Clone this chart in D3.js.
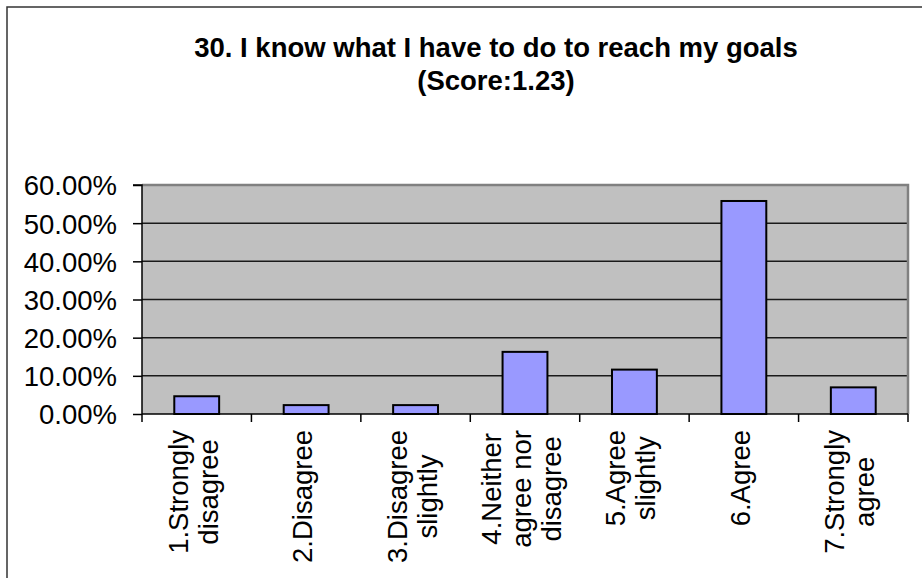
<!DOCTYPE html>
<html>
<head>
<meta charset="utf-8">
<script src="https://cdn.jsdelivr.net/npm/d3@7"></script>
<style>
  html, body { margin: 0; padding: 0; background: #fff; }
  svg { display: block; }
  text { font-family: "Liberation Sans", Arial, sans-serif; fill: #000; }
</style>
</head>
<body>
<svg id="chart" width="922" height="578"></svg>
<script>
// Survey item 30: share of respondents per answer (n = 43)
const titleLines = ["30. I know what I have to do to reach my goals", "(Score:1.23)"];
const categories = [
  ["1.Strongly", "disagree"],
  ["2.Disagree"],
  ["3.Disagree", "slightly"],
  ["4.Neither", "agree nor", "disagree"],
  ["5.Agree", "slightly"],
  ["6.Agree"],
  ["7.Strongly", "agree"]
];
const values = [0.0465, 0.0233, 0.0233, 0.1628, 0.1163, 0.5581, 0.0698];
const yTicks = [0, 0.1, 0.2, 0.3, 0.4, 0.5, 0.6];

const svg = d3.select("#chart");
const plot = { left: 142, right: 908, top: 185, bottom: 414 };
const labelSize = "27.5px";

// Outer chart frame (runs off the right and bottom edges)
svg.append("rect")
  .attr("x", 7).attr("y", 7)
  .attr("width", 940).attr("height", 600)
  .attr("fill", "#fff")
  .attr("stroke", "#333").attr("stroke-width", 1.5);

// Title
const title = svg.append("text")
  .attr("text-anchor", "middle")
  .style("font-weight", "bold")
  .style("font-size", "27.5px");
titleLines.forEach((t, i) => {
  title.append("tspan").attr("x", 496).attr("y", 57 + i * 33).text(t);
});

const x = d3.scaleBand()
  .domain(d3.range(categories.length))
  .range([plot.left, plot.right])
  .paddingInner(0.59).paddingOuter(0.295);

const xb = d3.scaleBand()
  .domain(d3.range(categories.length))
  .range([plot.left, plot.right]);

const y = d3.scaleLinear().domain([0, 0.6]).range([plot.bottom, plot.top]);

// Plot background
svg.append("rect")
  .attr("x", plot.left).attr("y", plot.top)
  .attr("width", plot.right - plot.left).attr("height", plot.bottom - plot.top)
  .attr("fill", "#c0c0c0");

// Horizontal gridlines
svg.append("g")
  .selectAll("line")
  .data(yTicks.filter(v => v > 0 && v < 0.6))
  .join("line")
  .attr("x1", plot.left).attr("x2", plot.right)
  .attr("y1", d => y(d)).attr("y2", d => y(d))
  .attr("stroke", "#1a1a1a").attr("stroke-width", 1.5);

// Plot area border on top and right
svg.append("path")
  .attr("d", `M${plot.left},${plot.top}H${plot.right}V${plot.bottom}`)
  .attr("fill", "none")
  .attr("stroke", "#808080").attr("stroke-width", 2.5);

// Bars
svg.append("g")
  .selectAll("rect")
  .data(values)
  .join("rect")
  .attr("x", (d, i) => x(i))
  .attr("y", d => y(d))
  .attr("width", x.bandwidth())
  .attr("height", d => y(0) - y(d))
  .attr("fill", "#9999ff")
  .attr("stroke", "#000").attr("stroke-width", 2);

// Y axis
const yAxis = d3.axisLeft(y)
  .tickValues(yTicks)
  .tickFormat(d => (d * 100).toFixed(2) + "%")
  .tickSize(9).tickPadding(16);
const gy = svg.append("g")
  .attr("transform", `translate(${plot.left},0)`)
  .call(yAxis);
gy.select(".domain").attr("stroke", "#000").attr("stroke-width", 1.5)
  .attr("d", `M-9,${plot.top}H0V${plot.bottom}`);
gy.selectAll(".tick line").attr("stroke", "#000").attr("stroke-width", 1.5);
gy.selectAll(".tick text")
  .style("font-size", labelSize)
  .style("font-family", "'Liberation Sans', Arial, sans-serif")
  .attr("fill", "#000")
  .attr("dy", "0.36em");

// X axis with ticks at band boundaries
const gx = svg.append("g");
gx.append("line")
  .attr("x1", plot.left).attr("x2", plot.right)
  .attr("y1", plot.bottom).attr("y2", plot.bottom)
  .attr("stroke", "#000").attr("stroke-width", 1.5);
gx.selectAll("line.tick")
  .data(d3.range(categories.length + 1))
  .join("line")
  .attr("class", "tick")
  .attr("x1", i => plot.left + i * xb.step())
  .attr("x2", i => plot.left + i * xb.step())
  .attr("y1", plot.bottom).attr("y2", plot.bottom + 8)
  .attr("stroke", "#000").attr("stroke-width", 1.5);

// Category labels, rotated, each block hanging from just below the axis
const lineGap = 30;
categories.forEach((lines, i) => {
  const cx = xb(i) + xb.bandwidth() / 2;
  const g = gx.append("g");
  const texts = lines.map((t, j) => g.append("text")
    .attr("text-anchor", "middle")
    .style("font-size", labelSize)
    .text(t));
  const maxW = d3.max(texts, t => t.node().getComputedTextLength());
  const cy = plot.bottom + 16 + maxW / 2;
  texts.forEach((t, j) => {
    const bx = cx + 6 + (j - (lines.length - 1) / 2) * lineGap;
    t.attr("transform", `translate(${bx},${cy}) rotate(-90)`);
  });
});
</script>
</body>
</html>
